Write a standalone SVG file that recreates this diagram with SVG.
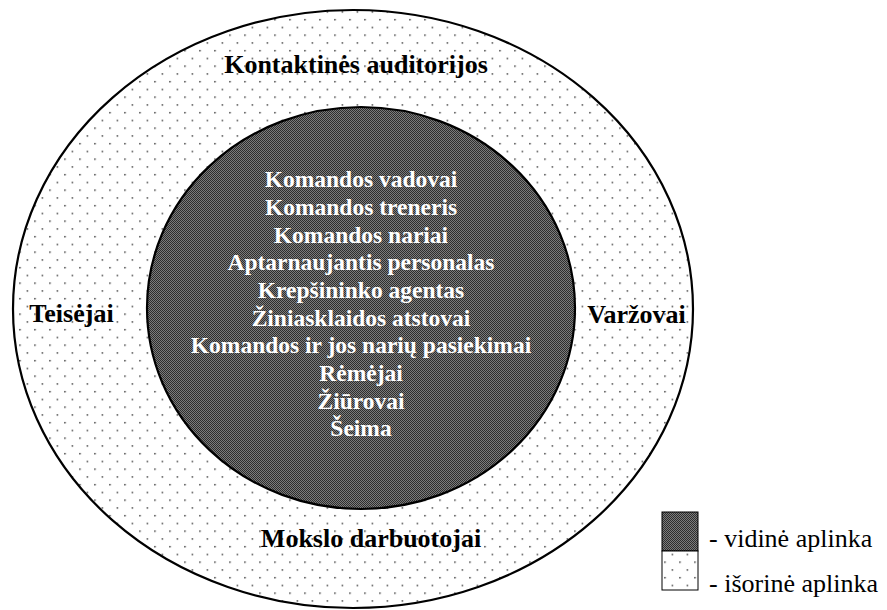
<svg xmlns="http://www.w3.org/2000/svg" width="887" height="610" viewBox="0 0 887 610">
  <defs>
    <!-- sparse staggered dots for the outer environment -->
    <pattern id="dots" patternUnits="userSpaceOnUse" x="4.2" y="3.4" width="15" height="15.5">
      <rect width="15" height="15.5" fill="#ffffff"/>
      <circle cx="0.75" cy="0.75" r="0.85" fill="#3a3a3a"/>
      <circle cx="8.25" cy="8.5" r="0.85" fill="#3a3a3a"/>
    </pattern>
    <!-- fine checker for the inner environment -->
    <pattern id="checker" patternUnits="userSpaceOnUse" width="2" height="2">
      <rect width="2" height="2" fill="#7c7c7c"/>
      <rect width="1" height="1" fill="#2e2e2e"/>
      <rect x="1" y="1" width="1" height="1" fill="#2e2e2e"/>
    </pattern>
  </defs>
  <style>
    .ring { stroke: #000; stroke-width: 2.2; }
    text { font-family: 'Liberation Serif', 'Times New Roman', serif; }
    .outer-label { font-weight: bold; font-size: 26px; fill: #000; text-anchor: middle; }
    .inner-label { font-weight: bold; font-size: 23.5px; fill: #fff; text-anchor: middle; }
    .legend-box { stroke: #000; stroke-width: 1; }
    .legend-text { font-size: 26px; fill: #000; }
  </style>

  <rect width="887" height="610" fill="#ffffff"/>

  <g id="outer-environment">
    <ellipse class="ring" cx="353" cy="309" rx="340" ry="299" fill="url(#dots)"/>
    <text class="outer-label" x="356" y="73">Kontaktinės auditorijos</text>
    <text class="outer-label" x="71.5" y="322">Teisėjai</text>
    <text class="outer-label" x="636.5" y="323">Varžovai</text>
    <text class="outer-label" x="371" y="547">Mokslo darbuotojai</text>
  </g>

  <g id="inner-environment">
    <ellipse class="ring" cx="361" cy="308" rx="214" ry="201" fill="url(#checker)"/>
    <text class="inner-label" x="361" y="187">Komandos vadovai</text>
    <text class="inner-label" x="361" y="215">Komandos treneris</text>
    <text class="inner-label" x="361" y="243">Komandos nariai</text>
    <text class="inner-label" x="361" y="270">Aptarnaujantis personalas</text>
    <text class="inner-label" x="361" y="298">Krepšininko agentas</text>
    <text class="inner-label" x="361" y="326">Žiniasklaidos atstovai</text>
    <text class="inner-label" x="361" y="353">Komandos ir jos narių pasiekimai</text>
    <text class="inner-label" x="361" y="381">Rėmėjai</text>
    <text class="inner-label" x="361" y="409">Žiūrovai</text>
    <text class="inner-label" x="361" y="436">Šeima</text>
  </g>

  <g id="legend">
    <rect class="legend-box" x="662" y="512" width="36" height="39" fill="url(#checker)"/>
    <rect class="legend-box" x="662" y="551" width="36" height="39" fill="url(#dots)"/>
    <text class="legend-text" x="709" y="547">- vidinė aplinka</text>
    <text class="legend-text" x="709" y="592">- išorinė aplinka</text>
  </g>
</svg>
